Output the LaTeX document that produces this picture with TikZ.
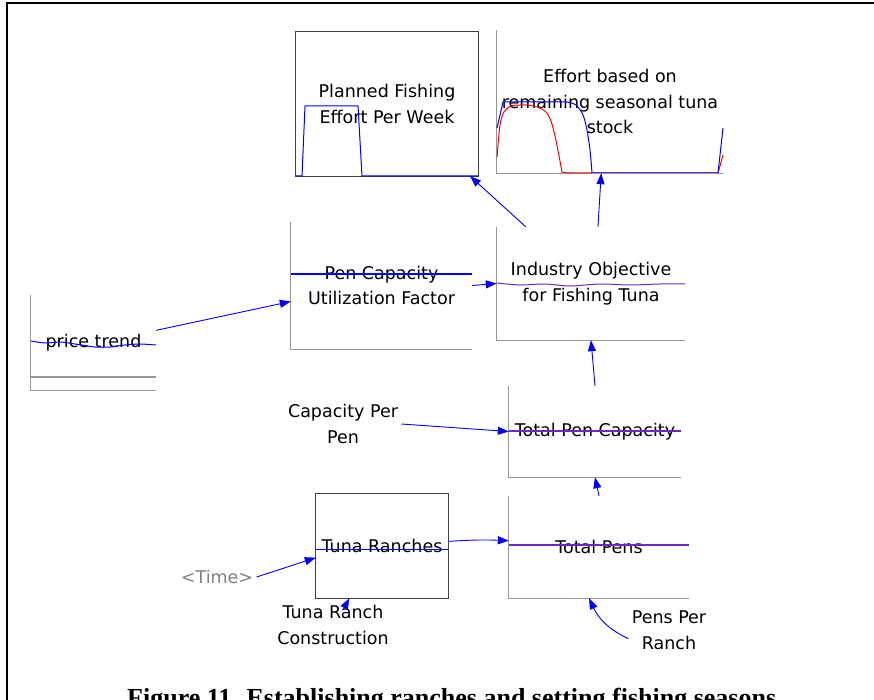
\documentclass[tikz,border=0pt]{standalone}
\usepackage{fontspec}
\setmainfont{DejaVu Sans}
\newfontfamily\capfont{Liberation Serif}
\usetikzlibrary{arrows.meta}
\definecolor{axisgray}{RGB}{150,150,150}
\definecolor{runmix}{RGB}{110,40,190}

\begin{document}
\begin{tikzpicture}[x = 1pt, y = -1pt,
    graph/.style = {inner sep = 0, align = center, font = \fontsize{17.5}{25.5}\selectfont},
    label/.style = {align = center, font = \fontsize{17.5}{25.5}\selectfont},
    axis/.style = {axisgray, line width = 1.3pt},
    frame/.style = {black!75, line width = 1.1pt},
    run/.style = {blue, line width = 1pt},
    link/.style = {-{Triangle[length = 11pt, width = 8pt]}, blue, line width = 0.9pt}]
    \useasboundingbox (0,0) rectangle (874,700);
    \clip (0,0) rectangle (874,700);
    \draw [line width = 2.5pt] (7,702) -- (7,3) -- (876,3);

    % graphs
    \node [graph, minimum width = 182, minimum height = 144] (plan) at (387,104)
      {Planned Fishing\\Effort Per Week};
    \node [graph, minimum width = 226, minimum height = 143] (effort) at (610,101.5)
      {Effort based on\\remaining seasonal tuna\\stock};
    \node [graph, minimum width = 181, minimum height = 127] (util) at (381.5,285.5)
      {Pen Capacity\\Utilization Factor};
    \node [graph, minimum width = 188, minimum height = 113] (indobj) at (591,283.5)
      {Industry Objective\\for Fishing Tuna};
    \node [graph, minimum width = 125, minimum height = 95] (price) at (93.5,342.5)
      {price trend};
    \node [graph, minimum width = 172, minimum height = 91] (totcap) at (595,431.5)
      {Total Pen Capacity};
    \node [graph, minimum width = 132, minimum height = 104] (ranches) at (382,546)
      {Tuna Ranches};
    \node [graph, minimum width = 180, minimum height = 102] (pens) at (599,547)
      {Total Pens};

    \draw [frame] (plan.north west) rectangle (plan.south east);
    \draw [frame] (ranches.north west) rectangle (ranches.south east);
    \foreach \g in {effort, util, indobj, price, totcap, pens}
      \draw [axis] (\g.north west) |- (\g.south east);
    \draw [axis] (31,377) -- (156,377);

    % runs
    \draw [run] (296,176) -- (302,176) -- (305,106) -- (358,106) -- (362,176) -- (478,176);
    \draw [red, line width = 1pt] plot [smooth] coordinates {(497,157) (500,125)
      (504,112) (511,106) (525,105) (537,107) (546,112) (551,121) (555,136)
      (559,156) (562,172)} -- (567,173) -- (592,173);
    \draw [red, line width = 1pt] (718,173) -- (723,155);
    \draw [run] (497,128) -- (503,102) -- (567,102) plot [smooth] coordinates
      {(567,102) (576,105) (583,115) (587,130) (590,150) (592,173)};
    \draw [runmix, line width = 1pt] (592,173) -- (718,173);
    \draw [run] (718,173) -- (723,128);
    \draw [run] (291,274) -- (472,274);
    \draw [runmix, line width = 1pt] plot [smooth] coordinates {(497,283) (520,285)
      (545,284) (570,286) (600,284) (630,285) (660,284) (685,284)};
    \draw [run] plot [smooth] coordinates {(31,341) (45,343) (60,342) (75,344)
      (95,347) (110,347) (125,345) (140,344) (156,345)};
    \draw [runmix, line width = 1.2pt] (509,431) -- (681,431);
    \draw [run] (316,549) -- (448,549);
    \draw [runmix, line width = 1.2pt] (509,545) -- (689,545);

    % variables
    \node [label] (cpp) at (343,424) {Capacity Per\\Pen};
    \node [label] (trc) at (333,625) {Tuna Ranch\\Construction};
    \node [label] (ppr) at (669,630) {Pens Per\\Ranch};
    \node [label, gray] (time) at (217,577) {\textless Time\textgreater};

    % links
    \draw [link] (price.11) -- (util.190);
    \draw [link] (util.east) -- (indobj.west);
    \draw [link] (indobj.139) -- (plan.-41);
    \draw [link] (indobj.83) -- (effort.-97);
    \draw [link] (totcap.north) -- (indobj.south);
    \draw [link] (pens.north) -- (totcap.south);
    \draw [link] (cpp.east) -- (totcap.west);
    \draw [link] (ranches.4) to [bend left = 3] (pens.176);
    \draw [link] (time.east) -- (ranches.190);
    \draw [link] ([xshift = 10pt, yshift = -8pt]trc.north) -- (ranches.-122);
    \draw [link] (ppr.192) to [out = 155, in = -65] (pens.-101);

    % caption
    \node [anchor = base west, inner sep = 0,
      font = \capfont\bfseries\fontsize{26}{30}\selectfont] (caption) at (127,706)
      {Figure 11. Establishing ranches and setting fishing seasons};
  \end{tikzpicture}
\end{document}
